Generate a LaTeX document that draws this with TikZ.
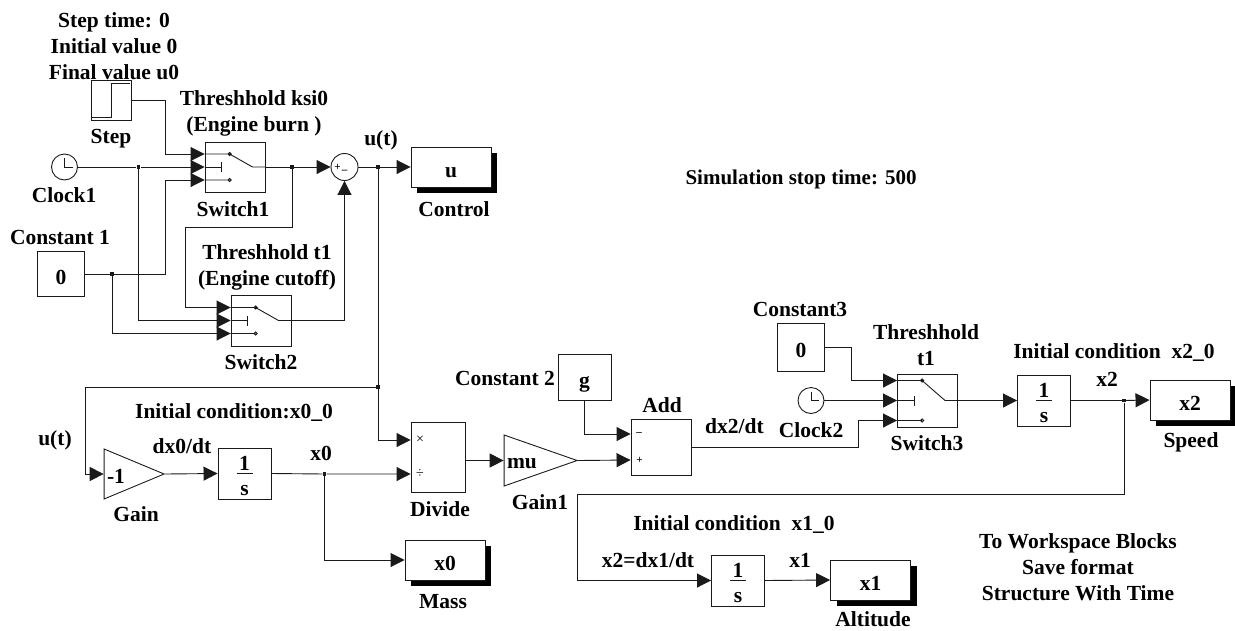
\documentclass[tikz,border=0pt]{standalone}
\usepackage{fontspec}
\setmainfont{Liberation Serif}
\usetikzlibrary{shapes.geometric, arrows.meta, calc, shadows}
\definecolor{inkcolor}{HTML}{1A1A1A}

\begin{document}
\begin{tikzpicture}[
  x=1pt, y=-1pt, line width=0.9pt, inkcolor,
  every node/.style={font=\fontsize{21.5}{26}\bfseries\selectfont},
  align=center,
]

\tikzset{
  blocktext/.style={inner sep=0pt, text=black},
  sourcebox/.style={rectangle, draw=inkcolor, inner sep=0pt, text=black,
    text height=20pt, text depth=0pt},
  sinkbox/.style={rectangle, draw=inkcolor, fill=white, inner sep=0pt, text=black,
    text height=20pt, text depth=0pt, minimum width=80pt, minimum height=40pt,
    drop shadow={shadow xshift=6pt, shadow yshift=-6pt, fill=black, opacity=1}},
  intbox/.style={rectangle, draw=inkcolor, inner sep=0pt, text=black,
    text height=43pt, text depth=0pt, minimum width=53pt, minimum height=51pt,
    append after command={
      \pgfextra{
        \draw ($(\tikzlastnode.center)+(-8,0)$) -- ($(\tikzlastnode.center)+(8,0)$);
      }}},
  gainbox/.style={isosceles triangle, isosceles triangle apex angle=60,
    isosceles triangle stretches, draw=inkcolor, inner sep=0pt,
    minimum width=50pt, minimum height=60pt},
  switchbox/.style={rectangle, draw=inkcolor, inner sep=0pt,
    minimum width=60pt, minimum height=50pt,
    append after command={
      \pgfextra{
        \coordinate (\tikzlastnode-a) at ($(\tikzlastnode.west)+(0,-#1)$);
        \coordinate (\tikzlastnode-b) at (\tikzlastnode.west);
        \coordinate (\tikzlastnode-c) at ($(\tikzlastnode.west)+(0,#1)$);
        \draw (\tikzlastnode-a) -- ++(25,0) circle[radius=1.6pt] -- ++(23,#1) -- (\tikzlastnode.east);
        \draw (\tikzlastnode-b) -- ++(17,0) ++(0,-5) -- ++(0,10);
        \draw (\tikzlastnode-c) -- ++(25,0) circle[radius=1.6pt];
      }}},
  clockbox/.style={circle, draw=inkcolor, inner sep=0pt, minimum size=26pt,
    append after command={
      \pgfextra{
        \draw[line width=0.7pt] ($(\tikzlastnode.center)+(0,-9)$) -- (\tikzlastnode.center) -- ++(8,0);
      }}},
  sumbox/.style={circle, draw=inkcolor, inner sep=0pt, minimum size=27pt},
  junction/.style={rectangle, fill=inkcolor, inner sep=0pt, minimum size=3.5pt},
  flowline/.style={-{Triangle[length=14pt, width=14pt]}},
  porttext/.style={font=\fontsize{11}{11}\bfseries\selectfont, inner sep=0pt, text=black},
}

% ---- source and switch stage ----
\node[sourcebox, minimum width=40pt, minimum height=40pt] (stepblk) at (111,100) {};
\draw (stepblk.south west) ++(1,-3) -- ++(20,0) -- ++(0,-34) -- ++(18,0);
\node[clockbox] (clockone) at (64.5,167) {};
\node[sourcebox, minimum width=47pt, minimum height=45pt] (constone) at (61,274) {0};
\node[switchbox=13] (swone) at (235,167) {};
\node[switchbox=13, minimum height=51pt] (swtwo) at (261,320.5) {};
\node[sumbox] (sumblk) at (344.5,167) {};
\node[porttext] (sumplus) at (337.5,167) {+};
\node[porttext] (summinus) at (344.5,170) {\_};
\node[sinkbox] (ctrlblk) at (451,167) {u};

\node[junction] (jclock) at (138.5,167) {};
\node[junction] (jconst) at (112,274) {};
\node[junction] (jswone) at (292,167) {};
\node[junction] (jsum) at (378,167) {};
\node[junction] (jfeed) at (378,387) {};

\draw[flowline] (stepblk.east) -- ++(34,0) |- (swone-a);
\draw[flowline] (clockone.east) -- (jclock) -- (swone-b);
\draw[flowline] (jclock) |- (swtwo-b);
\draw[flowline] (constone.east) -- (jconst) -- ++(53,0) |- (swone-c);
\draw[flowline] (jconst) |- (swtwo-c);
\draw[flowline] (swone.east) -- (jswone) -- (sumblk.west);
\draw[flowline] (jswone) |- ++(-107,60) |- (swtwo-a);
\draw[flowline] (swtwo.east) -| (sumblk.south);
\draw[flowline] (sumblk.east) -- (jsum) -- (ctrlblk.west);
\draw (jsum) -- (jfeed);

% ---- mass stage ----
\node[gainbox, anchor=apex] (gainblk) at (165,474) {};
\node[intbox] (intzero) at (244.5,473.5) {1\\[-1pt]s};
\node[rectangle, draw=inkcolor, inner sep=0pt, minimum width=54pt, minimum height=70pt] (divblk) at (438,457) {};
\node[porttext, font=\fontsize{14}{14}\selectfont] (divtimes) at (420,440) {×};
\node[porttext, font=\fontsize{14}{14}\selectfont] (divover) at (420,474) {÷};
\node[gainbox, anchor=apex, minimum width=51pt, minimum height=73pt] (gainone) at (578,460.5) {};
\node[sinkbox] (massblk) at (445,560) {x0};
\node[junction] (jmass) at (324.5,474) {};

\draw[flowline] (jfeed) -- ++(-293,0) |- (gainblk.west);
\draw[flowline] (jfeed) |- ($(divblk.west)+(0,-17)$);
\draw[flowline] (gainblk.apex) -- (intzero.west);
\draw[flowline] (intzero.east) -- (jmass) -- ($(divblk.west)+(0,17)$);
\draw[flowline] (jmass) |- (massblk.west);
\draw[flowline] ($(divblk.east)+(0,3.5)$) -- (gainone.west);

% ---- speed stage ----
\node[sourcebox, minimum width=53pt, minimum height=46pt] (consttwo) at (584.5,377) {g};
\node[rectangle, draw=inkcolor, inner sep=0pt, minimum width=60pt, minimum height=56pt] (addblk) at (661,447) {};
\node[porttext, anchor=west] (addminus) at (636,434) {--};
\node[porttext, anchor=west] (addplus) at (636,460) {+};
\node[sourcebox, minimum width=47pt, minimum height=48pt] (constthree) at (801,347) {0};
\node[clockbox] (clocktwo) at (811,400.5) {};
\node[switchbox=20, minimum height=53pt] (swthree) at (927.5,400.5) {};
\node[intbox] (inttwo) at (1044,400.5) {1\\[-1pt]s};
\node[sinkbox] (speedblk) at (1190,400) {x2};
\node[junction] (jspeed) at (1124,400.5) {};

\draw[flowline] (consttwo.south) |- ($(addblk.west)+(0,-13)$);
\draw[flowline] (gainone.apex) -- ($(addblk.west)+(0,13)$);
\draw[flowline] (addblk.east) -- ++(167,0) |- (swthree-c);
\draw[flowline] (constthree.east) -- ++(26,0) |- (swthree-a);
\draw[flowline] (clocktwo.east) -- (swthree-b);
\draw[flowline] (swthree.east) -- (inttwo.west);
\draw[flowline] (inttwo.east) -- (jspeed) -- (speedblk.west);

% ---- altitude stage ----
\node[intbox] (intone) at (738,580.5) {1\\[-1pt]s};
\node[sinkbox] (altblk) at (870.5,580) {x1};

\draw[flowline] (jspeed) |- ++(-547,94) |- (intone.west);
\draw[flowline] (intone.east) -- (altblk.west);

% ---- labels ----
\node[blocktext] (steptxt) at (114,46) {Step time: 0\\Initial value 0\\Final value u0};
\node[blocktext] (steplbl) at (111,139) {Step};
\node[blocktext] (clockonelbl) at (64,195) {Clock1};
\node[blocktext] (constonelbl) at (60,237) {Constant 1};
\node[blocktext] (swonetxt) at (254,113) {Threshhold ksi0\\(Engine burn )};
\node[blocktext] (swonelbl) at (233,209) {Switch1};
\node[blocktext] (utone) at (381,140) {u(t)};
\node[blocktext] (ctrllbl) at (454,209) {Control};
\node[blocktext] (swtwotxt) at (267,267) {Threshhold t1\\(Engine cutoff)};
\node[blocktext] (swtwolbl) at (261,362) {Switch2};
\node[blocktext, font=\fontsize{21}{26}\bfseries\selectfont] (simtxt) at (801,179) {Simulation stop time: 500};
\node[blocktext] (uttwo) at (55,440) {u(t)};
\node[blocktext] (inittxt) at (234,413) {Initial condition:x0\_0};
\node[blocktext] (dxzero) at (182,446) {dx0/dt};
\node[blocktext] (gaintxt) at (116,476) {-1};
\node[blocktext] (gainlbl) at (136,514) {Gain};
\node[blocktext] (xzero) at (321,453) {x0};
\node[blocktext] (divlbl) at (440,509) {Divide};
\node[blocktext] (gainonetxt) at (522,464) {mu};
\node[blocktext] (gainonelbl) at (540,502) {Gain1};
\node[blocktext] (masslbl) at (443,602) {Mass};
\node[blocktext] (consttwolbl) at (505,378) {Constant 2};
\node[blocktext] (addlbl) at (662,405) {Add};
\node[blocktext] (dxtwo) at (734.5,426) {dx2/dt};
\node[blocktext] (constthreelbl) at (800,309) {Constant3};
\node[blocktext] (clocktwolbl) at (811,430) {Clock2};
\node[blocktext] (swthreetxt) at (926,345.5) {Threshhold\\t1};
\node[blocktext] (swthreelbl) at (927,443) {Switch3};
\node[blocktext] (initbtxt) at (1114,353) {Initial condition\ \ x2\_0};
\node[blocktext] (xtwo) at (1107,379) {x2};
\node[blocktext] (speedlbl) at (1191,442) {Speed};
\node[blocktext] (initctxt) at (734,525) {Initial condition\ \ x1\_0};
\node[blocktext] (dxone) at (648,560) {x2=dx1/dt};
\node[blocktext] (xone) at (800,560) {x1};
\node[blocktext] (altlbl) at (873,619) {Altitude};
\node[blocktext] (worktxt) at (1078,567) {To Workspace Blocks\\Save format\\Structure With Time};

\useasboundingbox (0,0) rectangle (1235,630);
\end{tikzpicture}
\end{document}
